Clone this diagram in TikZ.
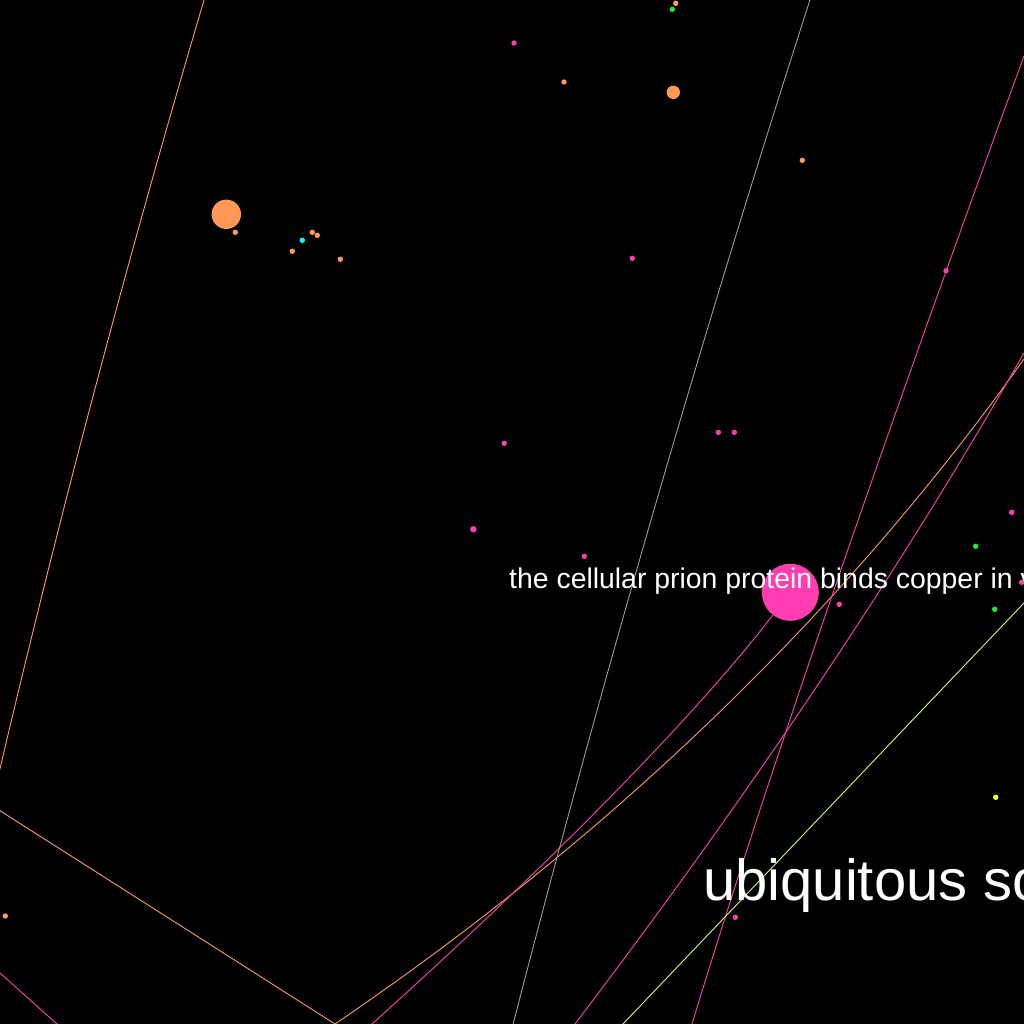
\documentclass[tikz,border=0pt]{standalone}
\usepackage{fontspec}
\setmainfont{Liberation Sans}
\usetikzlibrary{calc}
\definecolor{cpink}{RGB}{255,61,178}
\definecolor{corange}{RGB}{255,153,85}
\definecolor{cgreen}{RGB}{30,240,30}
\definecolor{ccyan}{RGB}{0,255,255}
\definecolor{cyellow}{RGB}{255,255,0}
\definecolor{cgrey}{RGB}{150,162,112}
\definecolor{cyg}{RGB}{205,255,90}
\pgfdeclarelayer{bg}
\pgfdeclarelayer{edges}
\pgfsetlayers{bg,edges,main}
\begin{document}
\begin{tikzpicture}[x=1pt,y=-1pt,
  edge/.style={line width=0.9pt},
  dot/.style={circle,inner sep=0pt,minimum size=5.4pt,draw=none},
  lbl/.style={text=white,inner sep=0pt,anchor=base west}]
\useasboundingbox (0,0) rectangle (1024,1024);
\begin{pgfonlayer}{bg}
\fill[black] (0,0) rectangle (1024,1024);
\end{pgfonlayer}

% nodes
\node[dot,fill=corange] (o1) at (675.7,3.3) {};
\node[dot,fill=cgreen] (g1) at (672.3,9.3) {};
\node[dot,fill=cpink] (p1) at (514,43) {};
\node[dot,fill=corange] (o2) at (564,82) {};
\node[dot,fill=corange,minimum size=13.4pt] (o3) at (673.3,92.3) {};
\node[dot,fill=corange] (o4) at (802.3,160.3) {};
\node[dot,fill=corange,minimum size=29.4pt] (o5) at (226.3,214.3) {};
\node[dot,fill=corange] (o6) at (235.3,232.3) {};
\node[dot,fill=corange] (o7) at (312.3,232.3) {};
\node[dot,fill=corange] (o8) at (317.3,235.3) {};
\node[dot,fill=ccyan] (c1) at (302.3,240.3) {};
\node[dot,fill=corange] (o9) at (292.3,251.3) {};
\node[dot,fill=corange] (o10) at (340.3,259.3) {};
\node[dot,fill=cpink] (p2) at (632.3,258.3) {};
\node[dot,fill=cpink] (p3) at (946,270.7) {};
\node[dot,fill=cpink] (p4) at (718.3,432.3) {};
\node[dot,fill=cpink] (p5) at (734.3,432.3) {};
\node[dot,fill=cpink] (p6) at (504.3,443.3) {};
\node[dot,fill=cpink,minimum width=6.4pt] (p7) at (473.3,529.3) {};
\node[dot,fill=cpink] (p8) at (1011.7,512.3) {};
\node[dot,fill=cgreen] (g2) at (975.7,546.3) {};
\node[dot,fill=cpink] (p9) at (584.3,556.3) {};
\node[dot,fill=cpink] (p10) at (1021.7,582.3) {};
\node[dot,fill=cpink,minimum size=57pt] (P0) at (790.3,592.3) {};
\node[dot,fill=cpink] (p11) at (839.3,604.3) {};
\node[dot,fill=cgreen] (g3) at (994.7,609.3) {};
\node[dot,fill=cyellow] (y1) at (995.7,797.3) {};
\node[dot,fill=cpink] (p12) at (735.3,917.3) {};
\node[dot,fill=corange] (o11) at (5.3,916) {};

% off-frame ends
\coordinate (e1a) at (210,-20);  \coordinate (e1c) at (89.5,385);  \coordinate (e1b) at (-5,790);
\coordinate (e2a) at (-20,798);  \coordinate (V) at (335,1024);
\coordinate (e3c) at (751,741);  \coordinate (e3b) at (1024,359);
\coordinate (e4c) at (653,771);  \coordinate (e4b) at (372,1024);
\coordinate (e5a) at (1024,56);  \coordinate (e5c) at (800,669);  \coordinate (e5b) at (692,1024);
\coordinate (e6a) at (1024,353); \coordinate (e6c) at (841,674);  \coordinate (e6b) at (575,1024);
\coordinate (e7a) at (818,-25);  \coordinate (e7c) at (645,510);  \coordinate (e7b) at (508,1044);
\coordinate (e8a) at (1044,582); \coordinate (e8b) at (603,1045);
\coordinate (e9a) at (-20,955);  \coordinate (e9b) at (77,1042);

\begin{pgfonlayer}{edges}
\draw[edge,corange] (e1a) .. controls ($(e1a)!2/3!(e1c)$) and ($(e1b)!2/3!(e1c)$) .. (e1b);
\draw[edge,corange] (e2a) -- (V);
\draw[edge,corange] (V) .. controls ($(V)!2/3!(e3c)$) and ($(e3b)!2/3!(e3c)$) .. (e3b);
\draw[edge,cpink] (P0) .. controls ($(P0)!2/3!(e4c)$) and ($(e4b)!2/3!(e4c)$) .. (e4b);
\draw[edge,cpink] (e5a) .. controls ($(e5a)!2/3!(e5c)$) and ($(e5b)!2/3!(e5c)$) .. (e5b);
\draw[edge,cpink] (e6a) .. controls ($(e6a)!2/3!(e6c)$) and ($(e6b)!2/3!(e6c)$) .. (e6b);
\draw[edge,cgrey] (e7a) .. controls ($(e7a)!2/3!(e7c)$) and ($(e7b)!2/3!(e7c)$) .. (e7b);
\draw[edge,cyg] (e8a) -- (e8b);
\draw[edge,cpink] (e9a) -- (e9b);
\end{pgfonlayer}

% labels
\node[lbl,font=\fontsize{28.4}{30}\selectfont] (t1) at (509,588) {the cellular prion protein binds copper in vivo};
\node[lbl,font=\fontsize{58}{62}\selectfont] (t2) at (703,900) {ubiquitous so};
\end{tikzpicture}
\end{document}
